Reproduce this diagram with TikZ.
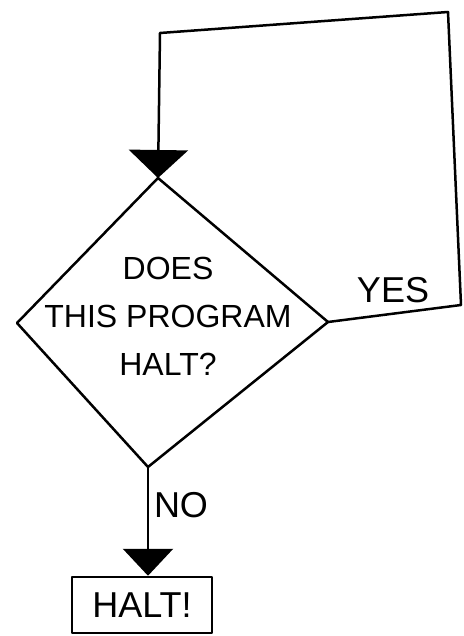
\documentclass[tikz,border=0pt]{standalone}
\usepackage{fontspec}
\setmainfont{Liberation Sans}
\usetikzlibrary{arrows.meta}
\begin{document}
\begin{tikzpicture}[x=1pt,y=-1pt, line width=2.5pt, line join=round, line cap=round,
  handbig/.style={font=\fontsize{36}{40}\selectfont},
  handmid/.style={font=\fontsize{32}{48}\selectfont},
  toptip/.style={-{Triangle[width=59pt,length=28pt]}},
  bottip/.style={-{Triangle[width=50pt,length=27pt]}}]
\useasboundingbox (0,0) rectangle (463,636);
\fill[white] (0,0) rectangle (463,636);
% diamond vertices
\coordinate (dt) at (158,178);
\coordinate (dl) at (17,323);
\coordinate (dr) at (328,322);
\coordinate (db) at (148,467);
\draw (dt) -- (dr) -- (db) -- (dl) -- cycle;
\node[handmid, align=center, inner sep=0pt] (q) at (168,316) {DOES\\THIS PROGRAM\\HALT?};
% loop back (YES)
\coordinate (c1) at (461,305);
\coordinate (c2) at (448,12);
\coordinate (c3) at (160,33);
\draw[toptip] (dr) -- (c1) -- (c2) -- (c3) -- (dt);
\node[handbig] (yes) at (393,290) {YES};
% NO branch
\node[handbig, draw, minimum width=140pt, minimum height=56pt, inner sep=0pt] (halt) at (142,605) {HALT!};
\draw[bottip] (db) -- (db |- halt.north);
\node[handbig] (no) at (181,505) {NO};
\end{tikzpicture}
\end{document}
